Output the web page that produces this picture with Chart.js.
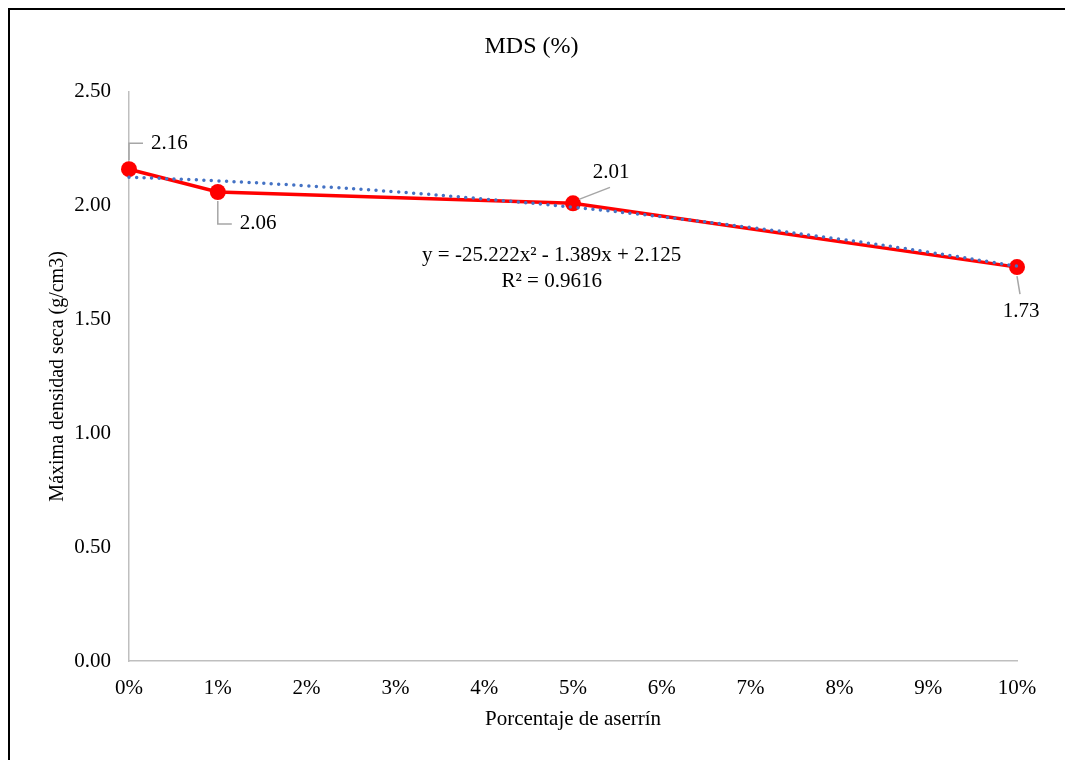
<!DOCTYPE html>
<html>
<head>
<meta charset="utf-8">
<script src="https://cdn.jsdelivr.net/npm/chart.js@4"></script>
<style>
  html, body { margin: 0; padding: 0; background: #fff; overflow: hidden; }
  #frame { position: absolute; left: 8px; top: 8px; width: 1100px; height: 800px; border-left: 2px solid #000; border-top: 2px solid #000; }
  #wrap { position: absolute; left: 0; top: 0; width: 1065px; height: 760px; }
</style>
</head>
<body>
<div id="frame"></div>
<div id="wrap"><canvas id="mdsChart"></canvas></div>
<script>
// porcentaje de aserrín (fracción) y MDS medida
let aserrin = [0, 0.01, 0.05, 0.10];
let mds = [2.16, 2.06, 2.01, 1.73];
let trendX = [0, 0.01, 0.02, 0.03, 0.04, 0.05, 0.06, 0.07, 0.08, 0.09, 0.10];
let trendY = [2.125, 2.109, 2.087, 2.061, 2.029, 1.993, 1.951, 1.904, 1.853, 1.796, 1.734];
let yTicks = [0, 0.5, 1.0, 1.5, 2.0, 2.5];
let equationText = ['y = -25.222x² - 1.389x + 2.125', 'R² = 0.9616'];

const serif = "'Liberation Serif', 'Times New Roman', serif";

// leader line + label offsets for each point (dx,dy of elbow, dx,dy of text)
let labelPos = [
    {line: [[0, -9], [0, -26], [14, -26]], text: [22, -26], align: 'left'},
    {line: [[0, 9], [0, 32], [14, 32]], text: [22, 32], align: 'left'},
    {line: [[6, -4], [37, -16]], text: [38, -31], align: 'center'},
    {line: [[0, 9], [3, 27]], text: [4, 44], align: 'center'}
];

const labelPlugin = {
    id: 'labelPlugin',
    afterDatasetsDraw(chart) {
        const ctx = chart.ctx;
        const meta = chart.getDatasetMeta(1);
        ctx.save();
        ctx.font = '21px ' + serif;
        ctx.textBaseline = 'middle';
        meta.data.forEach((pt, i) => {
            const p = labelPos[i];
            ctx.strokeStyle = '#a6a6a6';
            ctx.lineWidth = 1.5;
            ctx.beginPath();
            p.line.forEach((d, k) => {
                if (k == 0) ctx.moveTo(pt.x + d[0], pt.y + d[1]);
                else ctx.lineTo(pt.x + d[0], pt.y + d[1]);
            });
            ctx.stroke();
            ctx.fillStyle = '#000';
            ctx.textAlign = p.align;
            ctx.fillText(mds[i].toFixed(2), pt.x + p.text[0], pt.y + p.text[1]);
        });
        // ecuación de la tendencia
        const xs = chart.scales.x, ys = chart.scales.y;
        const cx = xs.getPixelForValue(0.0476);
        const cy = ys.getPixelForValue(1.782);
        ctx.font = '21px ' + serif;
        ctx.textAlign = 'center';
        ctx.fillText(equationText[0], cx, cy);
        ctx.fillText(equationText[1], cx, cy + 26);
        ctx.restore();
    }
};

let data = {
    datasets: [{
        label: 'Tendencia',
        data: trendX.map((x, i) => ({x: x, y: trendY[i]})),
        borderColor: '#4472C4',
        borderWidth: 3.5,
        borderDash: [0, 7.5],
        borderCapStyle: 'round',
        pointRadius: 0,
        fill: false,
        clip: false,
        tension: 0.4
    }, {
        label: 'MDS',
        data: aserrin.map((x, i) => ({x: x, y: mds[i]})),
        borderColor: '#ff0000',
        backgroundColor: '#ff0000',
        borderWidth: 3.5,
        pointRadius: 8,
        pointBorderWidth: 0,
        fill: false,
        clip: false,
        tension: 0
    }]
};

let config = {
    type: 'line',
    data: data,
    options: {
        responsive: false,
        animation: false,
        layout: {padding: {left: 46, right: 48, top: 0, bottom: 28}},
        plugins: {
            legend: {display: false},
            tooltip: {enabled: false},
            title: {
                display: true,
                text: 'MDS (%)',
                color: '#000',
                font: {family: serif, size: 24, weight: 'normal'},
                padding: {top: 32, bottom: 31}
            }
        },
        scales: {
            x: {
                type: 'linear',
                min: 0,
                max: 0.1,
                afterBuildTicks: (s) => { s.ticks = trendX.map(v => ({value: v})); },
                afterFit: (s) => { s.height = 71; },
                grid: {display: false, drawTicks: false},
                border: {color: '#bfbfbf', width: 1.5},
                ticks: {
                    color: '#000',
                    padding: 15,
                    font: {family: serif, size: 21},
                    callback: (v) => Math.round(v * 100) + '%'
                },
                title: {
                    display: true,
                    text: 'Porcentaje de aserrín',
                    color: '#000',
                    font: {family: serif, size: 21},
                    padding: {top: 4, bottom: 0}
                }
            },
            y: {
                min: 0,
                max: 2.5,
                afterBuildTicks: (s) => { s.ticks = yTicks.map(v => ({value: v})); },
                afterFit: (s) => { s.width = 83; },
                grid: {display: false, drawTicks: false},
                border: {color: '#bfbfbf', width: 1.5},
                ticks: {
                    color: '#000',
                    padding: 18,
                    font: {family: serif, size: 21},
                    callback: (v) => v.toFixed(2)
                },
                title: {
                    display: true,
                    text: 'Máxima densidad seca (g/cm3)',
                    color: '#000',
                    font: {family: serif, size: 20},
                    padding: {top: 0, bottom: 8}
                }
            }
        }
    },
    plugins: [labelPlugin]
};

const cv = document.getElementById('mdsChart');
cv.width = 1065;
cv.height = 760;
let mdsChart = new Chart(cv, config);
</script>
</body>
</html>
